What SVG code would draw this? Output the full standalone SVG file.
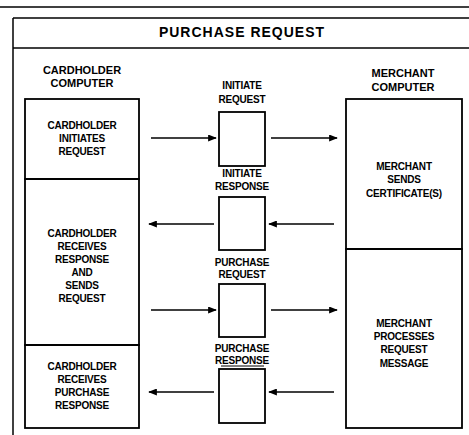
<svg xmlns="http://www.w3.org/2000/svg" width="469" height="435" viewBox="0 0 469 435">
<defs>
<style>
.bx{fill:none;stroke:#000;stroke-width:1.8}
.fr{fill:none;stroke:#000;stroke-width:1.5}
.t{font-family:"Liberation Sans",Arial,sans-serif;font-weight:bold;font-size:10px;fill:#000;text-anchor:middle;letter-spacing:-0.2px}
.h{font-family:"Liberation Sans",Arial,sans-serif;font-weight:bold;font-size:11px;fill:#000;text-anchor:middle}
.ttl{font-family:"Liberation Sans",Arial,sans-serif;font-weight:bold;font-size:14px;fill:#000;text-anchor:middle;letter-spacing:1px}
.ar{stroke:#000;stroke-width:1.5;fill:none;marker-end:url(#ah)}
</style>
<marker id="ah" viewBox="0 0 10 8" refX="9" refY="4" markerWidth="9" markerHeight="7" markerUnits="userSpaceOnUse" orient="auto">
<path d="M0,0 L10,4 L0,8 Z" fill="#000"/>
</marker>
</defs>
<rect width="469" height="435" fill="#fff"/>
<g id="frame">
<line class="fr" x1="0" y1="7" x2="469" y2="7"/>
<line class="fr" x1="13" y1="18" x2="469" y2="18"/>
<line class="fr" x1="13" y1="48" x2="469" y2="48"/>
<line class="fr" x1="13" y1="18" x2="13" y2="435"/>
<text class="ttl" x="242" y="37">PURCHASE REQUEST</text>
</g>
<g id="hdr-cardholder">
<text class="h" x="82" y="74">CARDHOLDER</text>
<text class="h" x="82" y="87">COMPUTER</text>
</g>
<g id="hdr-merchant">
<text class="h" x="403" y="77">MERCHANT</text>
<text class="h" x="403" y="91">COMPUTER</text>
</g>
<g id="ch1">
<rect class="bx" x="25" y="99" width="114" height="80"/>
<text class="t" x="82" y="129">CARDHOLDER</text>
<text class="t" x="82" y="142">INITIATES</text>
<text class="t" x="82" y="155">REQUEST</text>
</g>
<g id="ch2">
<rect class="bx" x="25" y="179" width="114" height="166"/>
<text class="t" x="82" y="237">CARDHOLDER</text>
<text class="t" x="82" y="250">RECEIVES</text>
<text class="t" x="82" y="263">RESPONSE</text>
<text class="t" x="82" y="276">AND</text>
<text class="t" x="82" y="289">SENDS</text>
<text class="t" x="82" y="302">REQUEST</text>
</g>
<g id="ch3">
<rect class="bx" x="25" y="345" width="114" height="83"/>
<text class="t" x="82" y="370">CARDHOLDER</text>
<text class="t" x="82" y="383">RECEIVES</text>
<text class="t" x="82" y="396">PURCHASE</text>
<text class="t" x="82" y="409">RESPONSE</text>
</g>
<g id="m1">
<rect class="bx" x="346" y="99" width="116" height="150"/>
<text class="t" x="404" y="170">MERCHANT</text>
<text class="t" x="404" y="183">SENDS</text>
<text class="t" x="404" y="197">CERTIFICATE(S)</text>
</g>
<g id="m2">
<rect class="bx" x="346" y="249" width="116" height="179"/>
<text class="t" x="404" y="327">MERCHANT</text>
<text class="t" x="404" y="340">PROCESSES</text>
<text class="t" x="404" y="353">REQUEST</text>
<text class="t" x="404" y="367">MESSAGE</text>
</g>
<g id="msg1">
<text class="t" x="242" y="89">INITIATE</text>
<text class="t" x="242" y="103">REQUEST</text>
<rect class="bx" x="219" y="112" width="46" height="54"/>
</g>
<g id="msg2">
<text class="t" x="242" y="177">INITIATE</text>
<text class="t" x="242" y="190">RESPONSE</text>
<rect class="bx" x="219" y="197" width="46" height="53"/>
</g>
<g id="msg3">
<text class="t" x="242" y="266">PURCHASE</text>
<text class="t" x="242" y="278">REQUEST</text>
<rect class="bx" x="219" y="284" width="46" height="53"/>
</g>
<g id="msg4">
<text class="t" x="242" y="352">PURCHASE</text>
<text class="t" x="242" y="364">RESPONSE</text>
<line x1="221" y1="366" x2="264" y2="366" stroke="#000" stroke-width="1"/>
<rect class="bx" x="219" y="369" width="46" height="54"/>
</g>
<g id="connectors">
<line class="ar" x1="151" y1="138" x2="216" y2="138"/>
<line class="ar" x1="271" y1="138" x2="337" y2="138"/>
<line class="ar" x1="214" y1="224" x2="149" y2="224"/>
<line class="ar" x1="334" y1="224" x2="269" y2="224"/>
<line class="ar" x1="151" y1="310" x2="216" y2="310"/>
<line class="ar" x1="271" y1="310" x2="337" y2="310"/>
<line class="ar" x1="214" y1="392" x2="149" y2="392"/>
<line class="ar" x1="334" y1="392" x2="269" y2="392"/>
</g>
</svg>
